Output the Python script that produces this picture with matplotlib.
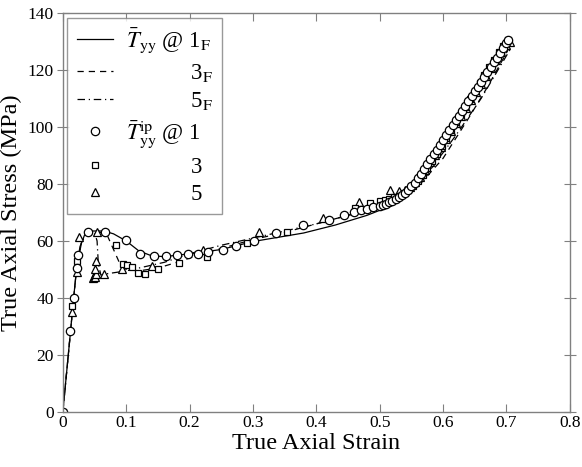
import numpy as np
import matplotlib.pyplot as plt

plt.rcParams['font.family'] = ['Liberation Serif', 'DejaVu Serif']
plt.rcParams['mathtext.fontset'] = 'stix'

# FE curves (strain, stress in MPa)
x1F = [0, 0.012, 0.017, 0.022, 0.027, 0.035, 0.045, 0.065, 0.08, 0.10, 0.12, 0.14, 0.16, 0.20, 0.25, 0.30,
       0.38, 0.43, 0.48, 0.52, 0.55, 0.58, 0.60, 0.63, 0.66, 0.68, 0.705]
y1F = [0, 28, 40, 51, 58, 62.5, 63.5, 63.5, 62.5, 60, 56.5, 54.8, 54.5, 55.5, 57, 59.8,
       62.8, 65.6, 69, 72.5, 77, 86, 93, 104, 116, 123, 131]

x3F = [0, 0.012, 0.017, 0.022, 0.03, 0.04, 0.06, 0.07, 0.08, 0.09, 0.10, 0.12, 0.15, 0.18, 0.22, 0.26,
       0.30, 0.35, 0.40, 0.45, 0.50, 0.53, 0.56, 0.60, 0.64, 0.67, 0.70, 0.707]
y3F = [0, 28, 40, 51, 60, 63, 63, 62, 57, 52, 50, 49.5, 50.5, 52.5, 55.5, 58,
       60.5, 63, 66, 69, 72, 74, 79, 89, 103, 114, 126, 129]

x5F = [0, 0.012, 0.017, 0.022, 0.03, 0.04, 0.05, 0.054, 0.056, 0.06, 0.07, 0.10, 0.13, 0.16, 0.20, 0.25,
       0.30, 0.35, 0.40, 0.45, 0.50, 0.54, 0.58, 0.62, 0.66, 0.70, 0.708]
y5F = [0, 28, 40, 51, 60, 63, 63, 60, 52, 48, 48.5, 49.5, 51, 52.5, 55.5, 58.5,
       61, 63.5, 66, 69, 72, 76, 85, 97, 110, 125, 128]

# integration point values
x1 = [0, 0.012, 0.017, 0.022, 0.024, 0.039, 0.066, 0.10, 0.122, 0.144, 0.163, 0.18, 0.197, 0.213, 0.229,
      0.253, 0.273, 0.301, 0.337, 0.379, 0.42, 0.443, 0.46, 0.47, 0.48, 0.49, 0.50,
      0.505, 0.51, 0.515, 0.52, 0.525, 0.53, 0.535, 0.54, 0.545, 0.55, 0.555, 0.56, 0.565, 0.57,
      0.575, 0.58, 0.585, 0.59, 0.595, 0.60, 0.605, 0.61, 0.615, 0.62, 0.625, 0.63, 0.635, 0.64,
      0.645, 0.65, 0.655, 0.66, 0.665, 0.67, 0.675, 0.68, 0.685, 0.69, 0.695, 0.70, 0.703]
y1 = [0, 28.4, 40, 50.5, 55, 63.3, 63.3, 60.5, 55.5, 54.7, 54.7, 55, 55.3, 55.6, 56,
      57, 58.3, 60, 62.8, 65.6, 67.4, 69, 70, 70.8, 71.3, 71.8, 72.3,
      72.7, 73.1, 73.6, 74.1, 74.7, 75.3, 76.0, 76.9, 78.0, 79.2, 80.5, 82.0, 83.6, 85.3,
      87.0, 88.7, 90.4, 92.1, 93.8, 95.5, 97.2, 98.9, 100.6, 102.3, 104.0, 105.7, 107.4, 109.1,
      110.8, 112.5, 114.2, 115.9, 117.6, 119.3, 121.0, 122.7, 124.4, 126.1, 127.8, 129.5, 130.7]

x3 = [0, 0.014, 0.023, 0.084, 0.095, 0.102, 0.109, 0.118, 0.129, 0.15, 0.183, 0.227, 0.29, 0.353,
      0.461, 0.484, 0.50, 0.508, 0.515, 0.523, 0.53, 0.538, 0.545, 0.553, 0.56, 0.568, 0.575, 0.583,
      0.59, 0.598, 0.605, 0.613, 0.62, 0.628, 0.635, 0.643, 0.65, 0.658, 0.665, 0.673, 0.68, 0.688,
      0.695, 0.703]
y3 = [0, 37, 53, 58.6, 52, 51.5, 51, 48.8, 48.4, 50, 52.2, 54.5, 59.4, 63.3,
      71.5, 73.5, 74, 74.3, 74.8, 75.3, 75.9, 76.8, 77.9, 79.3, 81, 83.3, 85.6, 88.2,
      90.7, 93.5, 96.2, 99, 101.6, 104.5, 107.1, 110, 112.6, 115.5, 118.1, 121, 123.6, 126.5,
      128.5, 130.5]

x5 = [0, 0.014, 0.022, 0.025, 0.054, 0.053, 0.048, 0.049, 0.050, 0.051, 0.052, 0.050, 0.065, 0.093,
      0.14, 0.221, 0.31, 0.41, 0.468, 0.516, 0.53, 0.54, 0.548, 0.556, 0.564, 0.572, 0.58, 0.588,
      0.596, 0.604, 0.612, 0.62, 0.628, 0.636, 0.644, 0.652, 0.66, 0.668, 0.676, 0.684, 0.692,
      0.70, 0.706]
y5 = [0, 35, 49, 61.4, 63.2, 53, 47, 47.5, 48.5, 47.5, 48.5, 50, 48.4, 50.2,
      51.2, 57, 63, 68, 73.6, 78, 77.5, 77.8, 79, 80.6, 82.6, 85, 87.6, 90.3,
      93, 95.8, 98.6, 101.3, 104, 106.8, 109.6, 112.3, 115, 117.8, 120.6, 123.4, 126.2,
      128.8, 130]

xticks = [0, 0.1, 0.2, 0.3, 0.4, 0.5, 0.6, 0.7, 0.8]
yticks = [0, 20, 40, 60, 80, 100, 120, 140]

fig = plt.figure(figsize=(5.82, 4.67), dpi=100)
ax = fig.add_axes([0.108, 0.118, 0.871, 0.854])

lw = 0.9
ax.plot(x1F, y1F, '-', color='k', lw=lw, label=r'$\bar{T}_{\rm yy}$ @ 1$_{\rm F}$')
ax.plot(x3F, y3F, '--', color='k', lw=lw, dashes=(5, 4), label=r'$\hspace{3.9}$3$_{\rm F}$')
ax.plot(x5F, y5F, '-.', color='k', lw=lw, dashes=(6, 3, 1, 3), label=r'$\hspace{3.9}$5$_{\rm F}$')
mk = dict(linestyle='none', mfc='white', mec='k', mew=0.9, ms=6)
ax.plot(x5, y5, marker='^', label='_nolegend_', **mk)
ax.plot(x3, y3, marker='s', label='_nolegend_', **dict(mk, ms=5))
ax.plot(x1, y1, marker='o', label='_nolegend_', **mk)

# legend entries for markers
h1, = ax.plot([], [], marker='o', **mk)
h3, = ax.plot([], [], marker='s', **dict(mk, ms=5))
h5, = ax.plot([], [], marker='^', **mk)
handles, labels = ax.get_legend_handles_labels()
handles += [h1, h3, h5]
labels += [r'$\bar{T}_{\rm yy}^{\rm ip}$ @ 1', r'$\hspace{3.9}$3', r'$\hspace{3.9}$5']
leg = ax.legend(handles, labels, loc='upper left', fontsize=16.5, frameon=True, fancybox=False,
                edgecolor='#808080', handlelength=1.6, borderpad=0.4, labelspacing=0.28,
                handletextpad=0.55, borderaxespad=0.2)
leg.get_frame().set_linewidth(1.0)

ax.set_xlim(0, 0.8)
ax.set_ylim(0, 140)
ax.set_xticks(xticks)
ax.set_xticklabels(['0', '0.1', '0.2', '0.3', '0.4', '0.5', '0.6', '0.7', '0.8'])
ax.set_yticks(yticks)
ax.tick_params(direction='in', top=True, right=True, length=6, width=0.8, color='#808080',
               labelsize=12.5, pad=2)
ax.yaxis.set_tick_params(direction='inout', length=9)
for s in ax.spines.values():
    s.set_color('#808080')
    s.set_linewidth(1.0)

ax.set_xlabel('True Axial Strain', fontsize=17.5, labelpad=2)
ax.set_ylabel('True Axial Stress (MPa)', fontsize=17.5, labelpad=4)

fig.savefig('out.png', dpi=100)
